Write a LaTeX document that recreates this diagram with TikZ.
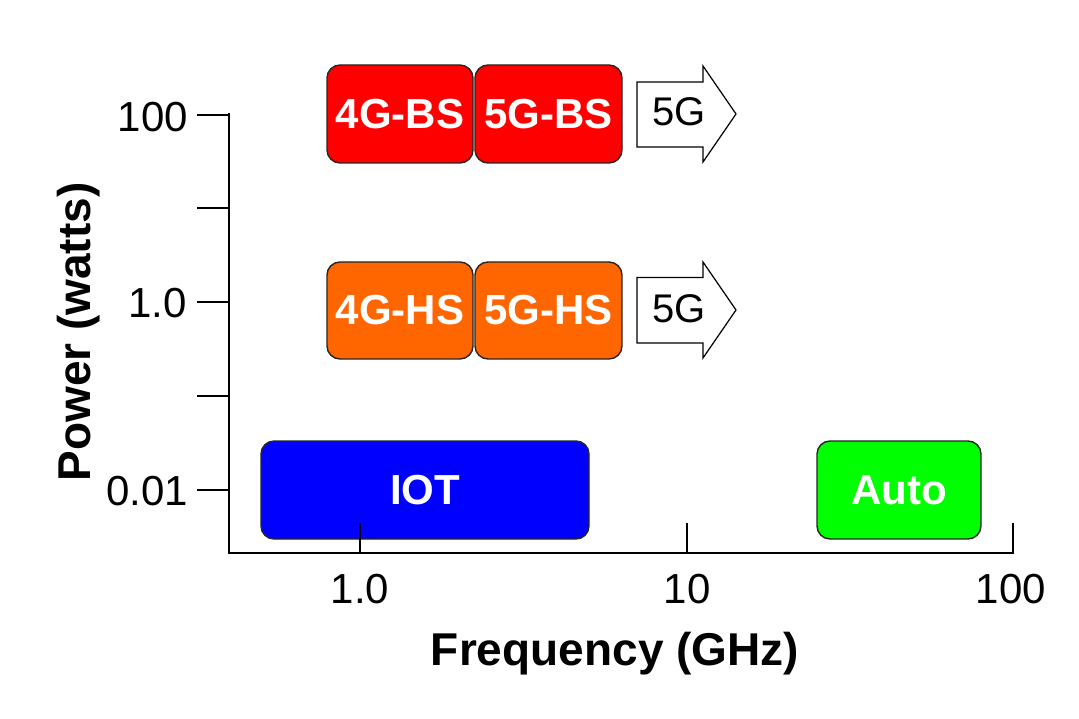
\documentclass[tikz,border=0pt]{standalone}
\usepackage{fontspec}
\setmainfont{Liberation Sans}
\begin{document}
\begin{tikzpicture}[x=1pt,y=-1pt,
  band/.style={draw=black!85, line width=1.4pt, rounded corners=13pt, text=white,
    font=\fontsize{42}{48}\selectfont\bfseries, inner sep=0pt, anchor=center},
  redbox/.style={band, fill=red, minimum width=146pt, minimum height=98pt},
  orangebox/.style={band, fill={rgb,255:red,255;green,102;blue,0}, minimum width=146pt, minimum height=97pt},
  axisline/.style={line width=1.6pt, black},
  ticklabel/.style={font=\fontsize{42}{48}\selectfont, inner sep=0pt},
  titlelabel/.style={font=\fontsize{46}{52}\selectfont\bfseries, inner sep=0pt},
  arrowshape/.style={draw=black, line width=1.2pt, fill=white, line join=miter},
  arrowtext/.style={font=\fontsize{40}{46}\selectfont, inner sep=0pt}
]
\fill[white] (0,0) rectangle (1079,719);
\useasboundingbox (0,0) rectangle (1079,719);

% boxes
\node[redbox] (bs4) at (400,114) {4G-BS};
\node[redbox, minimum width=147pt] (bs5) at (548.5,114) {5G-BS};
\node[orangebox] (hs4) at (400,310.5) {4G-HS};
\node[orangebox, minimum width=147pt] (hs5) at (548.5,310.5) {5G-HS};
\node[band, fill=blue, minimum width=328pt, minimum height=98pt] (iot) at (425,490) {IOT};
\node[band, fill={rgb,255:red,0;green,255;blue,0}, minimum width=164pt, minimum height=98pt] (auto) at (899,490) {Auto};

% 5G arrows
\draw[arrowshape] (637,82) -- (703,82) -- (703,66) -- (736,114) -- (703,162) -- (703,147) -- (637,147) -- cycle;
\node[arrowtext] (g5a) at (679,112) {5G};
\draw[arrowshape] (637,277.5) -- (703,277.5) -- (703,262) -- (736,310) -- (703,358) -- (703,343) -- (637,343) -- cycle;
\node[arrowtext] (g5b) at (679,308.5) {5G};

% axes
\coordinate (yt) at (229,114);
\coordinate (org) at (229,553);
\coordinate (xe) at (1013,553);
\draw[axisline, line cap=rect] (yt) -- (org) -- (xe);
\foreach \yy in {115,208,302,396,490}
  \draw[axisline] (197,\yy) -- (229,\yy);
\foreach \xx in {360,687,1013}
  \draw[axisline] (\xx,523) -- (\xx,553);

% tick labels
\node[ticklabel, anchor=base east] (l100) at (188,132) {100};
\node[ticklabel, anchor=base east] (l1) at (187,318) {1.0};
\node[ticklabel, anchor=base east] (l001) at (188,505) {0.01};
\node[ticklabel, anchor=base] (x1) at (360,603) {1.0};
\node[ticklabel, anchor=base] (x10) at (687,603) {10};
\node[ticklabel, anchor=base] (x100) at (1011,603) {100};

% titles
\node[titlelabel, anchor=base] (xtitle) at (615,665) {Frequency (GHz)};
\node[titlelabel, anchor=base, rotate=90] (ytitle) at (90,332) {Power (watts)};
\end{tikzpicture}
\end{document}
